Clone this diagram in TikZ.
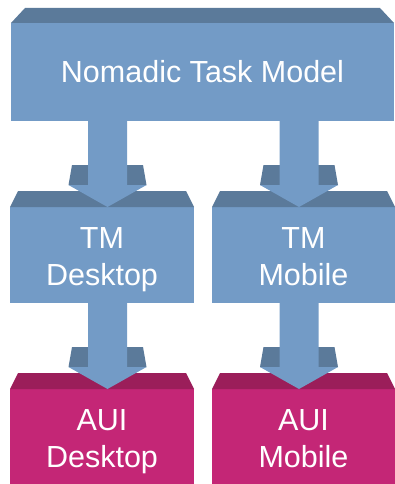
\documentclass[tikz,border=0pt]{standalone}
\usepackage{fontspec}
\setmainfont{Liberation Sans}
\usetikzlibrary{calc}
\definecolor{blueF}{RGB}{115,155,198}
\definecolor{blueT}{RGB}{91,122,154}
\definecolor{magF}{RGB}{196,38,118}
\definecolor{magT}{RGB}{155,30,90}
\tikzset{
  face/.style={rectangle, inner sep=0pt, outer sep=0pt},
  lbl/.style={text=white, font=\fontsize{30.5}{37}\selectfont, align=center, inner sep=0pt, anchor=base},
}
\newcommand\boxtop[4]{%
  \fill[#4] (#1.north west) -- ++(#2,-#3) -- ($(#1.north east)+(-#2,-#3)$) -- (#1.north east) -- cycle;}
\newcommand\fatarrow[3]{%
  \fill[blueT] let \p1=(#1.south), \p2=(#2.north) in
    ({#3pt-35.5pt},{\y2+42pt}) -- ({#3pt+35.5pt},{\y2+42pt}) -- ({#3pt+39pt},{\y2+22pt}) -- ({#3pt-39pt},{\y2+22pt}) -- cycle;
  \fill[blueF] let \p1=(#1.south), \p2=(#2.north) in
    ({#3pt-19.5pt},\y1) -- ({#3pt+19.5pt},\y1) -- ({#3pt+19.5pt},{\y2+22pt}) -- ({#3pt+39pt},{\y2+22pt})
    -- ({#3pt},\y2) -- ({#3pt-39pt},{\y2+22pt}) -- ({#3pt-19.5pt},{\y2+22pt}) -- cycle;}
\begin{document}
\begin{tikzpicture}[x=1pt,y=-1pt]
\useasboundingbox (0,0) rectangle (395,484);
% front faces
\node[face, fill=blueF, minimum width=383, minimum height=98] (nm) at (202.5,72) {};
\node[face, fill=blueF, minimum width=184, minimum height=96] (tmd) at (102,255) {};
\node[face, fill=blueF, minimum width=183, minimum height=96] (tmm) at (303.5,255) {};
\node[face, fill=magF, minimum width=184, minimum height=95] (auid) at (102,436.5) {};
\node[face, fill=magF, minimum width=183, minimum height=95] (auim) at (303.5,436.5) {};
% top faces
\boxtop{nm}{14}{15}{blueT}
\boxtop{tmd}{8}{16}{blueT}
\boxtop{tmm}{8}{16}{blueT}
\boxtop{auid}{8}{16}{magT}
\boxtop{auim}{8}{16}{magT}
% arrows
\fatarrow{nm}{tmd}{107.5}
\fatarrow{nm}{tmm}{299}
\fatarrow{tmd}{auid}{107.5}
\fatarrow{tmm}{auim}{299}
% labels
\node[lbl] (lnm) at (202.5,83) {Nomadic Task Model};
\node[lbl] (ltmd) at (102,285) {TM\\Desktop};
\node[lbl] (ltmm) at (303.5,285) {TM\\Mobile};
\node[lbl] (lauid) at (102,467) {AUI\\Desktop};
\node[lbl] (lauim) at (303.5,467) {AUI\\Mobile};
\end{tikzpicture}
\end{document}
